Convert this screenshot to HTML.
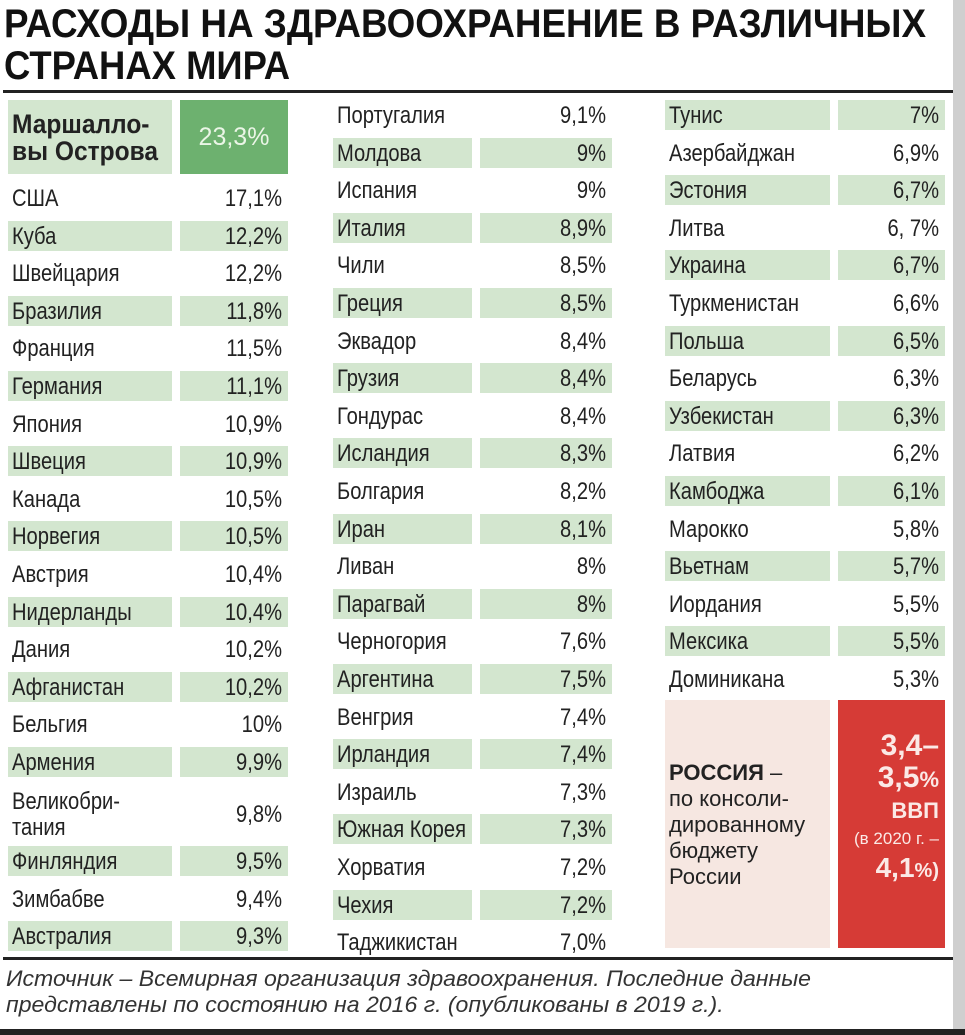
<!DOCTYPE html>
<html><head><meta charset="utf-8">
<style>
body{margin:0;width:965px;height:1035px;background:#fff;position:relative;overflow:hidden;font-family:"Liberation Sans Narrow","Liberation Sans","Noto Sans CJK SC",sans-serif;color:#222}
.abs{position:absolute}
.t{font-weight:bold;font-size:40px;color:#111;white-space:nowrap;transform-origin:0 0;line-height:40px}
.cell{position:absolute;height:30px}
.txt{position:absolute;font-size:24px;line-height:30px;white-space:nowrap;color:#222;transform:scaleX(0.84);transform-origin:0 0}
.val{text-align:right;transform-origin:100% 0}
.fr{position:absolute;right:0;top:0;width:12px;height:1035px;background:#cfcfcf}
.fb{position:absolute;left:0;bottom:0;width:965px;height:6px;background:#222}
</style></head><body>
<div class="fr"></div>
<div class="fb"></div>
<div class="abs t" id="t1" style="left:4px;top:4px">РАСХОДЫ НА ЗДРАВООХРАНЕНИЕ В РАЗЛИЧНЫХ</div>
<div class="abs t" id="t2" style="left:4px;top:46px">СТРАНАХ МИРА</div>
<div class="abs" style="left:3px;top:90px;width:950px;height:3px;background:#222"></div>
<div class="abs" style="left:3px;top:957px;width:950px;height:3px;background:#222"></div>
<div class="abs" id="src" style="left:6px;top:966px;font-style:italic;font-size:22px;line-height:26px;color:#333;white-space:nowrap;transform-origin:0 0"><span id="s1">Источник – Всемирная организация здравоохранения. Последние данные</span><br><span id="s2">представлены по состоянию на 2016 г. (опубликованы в 2019 г.).</span></div>

<div class="abs" style="left:8px;top:100px;width:164px;height:74px;background:#d3e6cf"></div>
<div class="abs" id="mn" style="left:12px;top:111px;font-size:27px;line-height:27px;font-weight:bold;color:#222;white-space:nowrap;transform-origin:0 0">Маршалло-<br>вы Острова</div>
<div class="abs" style="left:180px;top:100px;width:108px;height:74px;background:#6db16f;color:#eaf5e6;font-size:25px;line-height:74px;text-align:center">23,3%</div>

<div class="abs" style="left:665px;top:700px;width:165px;height:248px;background:#f6e7e1"></div>
<div class="abs" style="left:669px;top:760px;font-size:22px;line-height:26px;color:#222"><b style="font-family:'Liberation Sans',sans-serif">РОССИЯ</b> –<br>по консоли-<br>дированному<br>бюджету<br>России</div>
<div class="abs" style="left:838px;top:700px;width:107px;height:248px;background:#d63b36;color:#fbe9e6;text-align:right;font-weight:bold">
<div style="padding-right:6px;padding-top:30px;font-size:30px;line-height:32px">3,4–<br>3,5<span style="font-size:22px">%</span></div>
<div style="padding-right:6px;font-size:22px;line-height:30px">ВВП</div>
<div style="padding-right:6px;font-size:17px;line-height:26px;font-weight:normal">(в 2020 г. –</div>
<div style="padding-right:6px;font-size:28px;line-height:32px">4,1<span style="font-size:20px">%)</span></div>
</div>
<div id="tbl"></div>
<script>
const names1=["США","Куба","Швейцария","Бразилия","Франция","Германия","Япония","Швеция","Канада","Норвегия","Австрия","Нидерланды","Дания","Афганистан","Бельгия","Армения","Великобри-\nтания","Финляндия","Зимбабве","Австралия"];
const vals1=["17,1%","12,2%","12,2%","11,8%","11,5%","11,1%","10,9%","10,9%","10,5%","10,5%","10,4%","10,4%","10,2%","10,2%","10%","9,9%","9,8%","9,5%","9,4%","9,3%"];
const names2=["Португалия","Молдова","Испания","Италия","Чили","Греция","Эквадор","Грузия","Гондурас","Исландия","Болгария","Иран","Ливан","Парагвай","Черногория","Аргентина","Венгрия","Ирландия","Израиль","Южная Корея","Хорватия","Чехия","Таджикистан"];
const vals2=["9,1%","9%","9%","8,9%","8,5%","8,5%","8,4%","8,4%","8,4%","8,3%","8,2%","8,1%","8%","8%","7,6%","7,5%","7,4%","7,4%","7,3%","7,3%","7,2%","7,2%","7,0%"];
const names3=["Тунис","Азербайджан","Эстония","Литва","Украина","Туркменистан","Польша","Беларусь","Узбекистан","Латвия","Камбоджа","Марокко","Вьетнам","Иордания","Мексика","Доминикана"];
const vals3=["7%","6,9%","6,7%","6, 7%","6,7%","6,6%","6,5%","6,3%","6,3%","6,2%","6,1%","5,8%","5,7%","5,5%","5,5%","5,3%"];
const P=37.6, G="#d3e6cf";
const tbl=document.getElementById('tbl');
function row(name,val,y,h,col,green,i){
  const g=document.createElement('div');
  
  
  tbl.appendChild(g);
  if(green){
    const a=document.createElement('div');a.className='cell';
    
    
    a.style.cssText=`left:${col.nx}px;top:${y}px;width:${col.nw}px;height:${h}px;background:${G}`;g.appendChild(a);
    const b=document.createElement('div');b.className='cell';
    
    
    b.style.cssText=`left:${col.vx}px;top:${y}px;width:${col.vw}px;height:${h}px;background:${G}`;g.appendChild(b);
  }
  const n=document.createElement('div');n.className='txt';
  
  
  const two=name.includes('\n');
  n.innerHTML=name.replace('\n','<br>');
  n.style.cssText=`left:${col.nx+4}px;top:${y+1+(two?(h-52)/2:0)}px;line-height:${two?26:30}px`;g.appendChild(n);
  const v=document.createElement('div');v.className='txt val';
  
  
  v.textContent=val;
  v.style.cssText=`left:${col.vx}px;top:${y+1+(h-30)/2}px;width:${col.vw-6}px`;g.appendChild(v);
}
const c1={id:1,nx:8,nw:164,vx:180,vw:108};
let y=183;
names1.forEach((n,i)=>{const two=n.includes('\n');const h=two?58:30;row(n,vals1[i],y,h,c1,i%2==1&&!two||(i>16&&i%2==1),i);y+=two?P+24:P;});
const c2={id:2,nx:333,nw:139,vx:480,vw:132};
names2.forEach((n,i)=>row(n,vals2[i],100+i*P,30,c2,i%2==1,i));
const c3={id:3,nx:665,nw:165,vx:838,vw:107};
names3.forEach((n,i)=>row(n,vals3[i],100+i*P,30,c3,i%2==0,i));
function fit(id,w,mid){const e=document.getElementById(id);const r=(mid?document.getElementById(mid):e).getBoundingClientRect().width;e.style.transform=`scaleX(${w/r})`;}
fit('t1',922);fit('t2',286);fit('src',805,'s1');fit('mn',146);
</script>
</body></html>
